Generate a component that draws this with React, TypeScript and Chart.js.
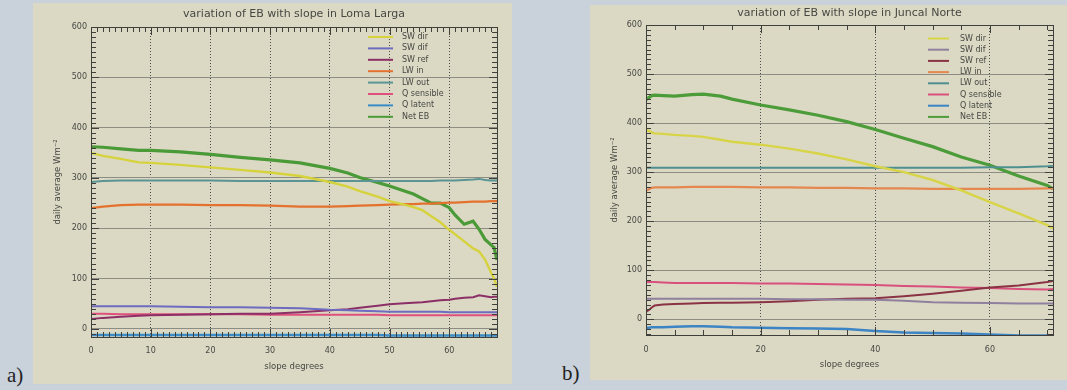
import React, { useEffect, useRef } from "react";
import { Chart, registerables } from "chart.js";

Chart.register(...registerables);

// ---------- text ----------
const seriesNames = ["SW dir", "SW dif", "SW ref", "LW in", "LW out", "Q sensible", "Q latent", "Net EB"];
const titleA = "variation of EB with slope in Loma Larga";
const titleB = "variation of EB with slope in Juncal Norte";
const xAxisTitle = "slope degrees";
const yAxisTitle = "daily average Wm\u207B\u00B2";
const panelLabelA = "a)";
const panelLabelB = "b)";

// ---------- panel a : Loma Larga ----------
const slopeA = [0, 2, 5, 8, 10, 15, 20, 25, 30, 35, 40, 43, 45, 48, 50, 52.5, 54, 55.5, 57, 58.5, 60, 61, 62.5, 64, 65, 66, 67, 67.5, 68];
const swDirA = [350, 344, 338, 331, 330, 326, 321, 316, 311, 304, 292, 283, 274, 263, 254, 247, 242, 236, 224, 212, 197, 188, 174, 160, 154, 138, 112, 100, 84];
const swDifA = [45, 45, 45, 45, 45, 44, 43, 43, 42, 41, 38, 37, 36, 35, 34, 34, 34, 34, 34, 34, 33, 33, 33, 33, 33, 33, 33, 33, 33];
const swRefA = [20, 22, 24, 26, 27, 28, 29, 30, 30, 33, 37, 39, 42, 46, 49, 51, 52, 53, 55, 57, 58, 60, 62, 63, 67, 65, 63, 64, 64];
const lwInA = [240, 243, 246, 247, 247, 247, 246, 246, 245, 243, 243, 244, 245, 246, 247, 248, 248, 249, 249, 250, 251, 251, 252, 253, 253, 253, 254, 254, 254];
const lwOutA = [292, 294, 295, 295, 295, 295, 295, 294, 294, 294, 294, 294, 294, 294, 294, 294, 294, 294, 294, 295, 295, 295, 296, 297, 298, 296, 295, 295, 295];
const qSensA = [30, 30, 29, 29, 29, 29, 29, 29, 28, 28, 28, 28, 28, 28, 27, 27, 27, 27, 27, 27, 27, 27, 27, 27, 27, 27, 27, 27, 27];
const qLatA = [-12, -12, -12, -12, -12, -12, -12, -12, -12, -12, -12, -12, -12, -12, -13, -13, -13, -13, -13, -13, -13, -13, -13, -13, -13, -13, -13, -13, -13];
const netEbA = [362, 361, 358, 355, 355, 352, 347, 341, 336, 330, 319, 310, 301, 291, 284, 274, 268, 259, 250, 250, 241, 226, 208, 214, 198, 178, 167, 162, 137];

// ---------- panel b : Juncal Norte ----------
const slopeB = [0, 0.5, 1, 1.5, 3, 5, 8, 10, 13, 15, 20, 25, 30, 35, 40, 45, 50, 55, 60, 65, 70, 71];
const swDirB = [386, 384, 381, 379, 378, 376, 374, 372, 366, 362, 356, 348, 338, 326, 312, 300, 284, 263, 239, 216, 192, 185];
const swDifB = [42, 42, 42, 42, 42, 42, 42, 42, 42, 42, 42, 41, 41, 40, 40, 38, 35, 34, 33, 32, 32, 32];
const swRefB = [15, 19, 24, 28, 30, 31, 32, 33, 34, 34, 35, 37, 40, 42, 43, 47, 52, 58, 65, 69, 76, 78];
const lwInB = [262, 265, 268, 269, 269, 269, 270, 270, 270, 270, 269, 269, 268, 268, 267, 267, 266, 266, 266, 266, 267, 267];
const lwOutB = [309, 309, 309, 309, 309, 309, 309, 309, 309, 309, 309, 309, 309, 309, 309, 309, 309, 309, 310, 310, 312, 313];
const qSensB = [76, 76, 76, 76, 75, 74, 74, 74, 74, 74, 73, 73, 72, 71, 70, 68, 67, 65, 64, 62, 61, 62];
const qLatB = [-17, -17, -16, -16, -16, -15, -14, -14, -15, -16, -17, -18, -19, -20, -24, -27, -28, -29, -31, -33, -33, -33];
const netEbB = [448, 452, 456, 457, 456, 455, 458, 459, 455, 449, 437, 427, 416, 403, 387, 369, 352, 331, 314, 292, 273, 266];

// ---------- styles ----------
const colorsA = ["#d6d23c", "#6d6cc0", "#8c2f66", "#e4722e", "#5a9494", "#e0507c", "#3a8cc8", "#4a9a38"];
const colorsB = ["#d8d448", "#8e809e", "#8a3344", "#e48850", "#4e9090", "#d9507c", "#3c84c4", "#4c9c3a"];
const widths = [2.4, 2, 2, 2.2, 1.8, 2, 2.5, 3.2];

const FONT = "DejaVu Sans";
const TEXT = "#474743";
const FRAME = "#3f3f3b";

type PanelCfg = {
  left: number; top: number; w: number; h: number; padRight: number;
  title: string; titleTop: number; titleBottom: number;
  x: number[]; series: number[][]; colors: string[];
  xMax: number; xStep: number; xMinor: number; yMin: number;
  yAxisW: number; xAxisH: number; xTickPad: number; xTitlePad: number;
  legTop: number; legStep: number; legSample: number; legSampleLen: number; legText: number;
};

const panelA: PanelCfg = {
  left: 33, top: 3, w: 479, h: 381, padRight: 15,
  title: titleA, titleTop: 5, titleBottom: 5.8,
  x: slopeA, series: [swDirA, swDifA, swRefA, lwInA, lwOutA, qSensA, qLatA, netEbA], colors: colorsA,
  xMax: 68, xStep: 10, xMinor: 1, yMin: -16,
  yAxisW: 58, xAxisH: 47, xTickPad: 9, xTitlePad: 12,
  legTop: 10, legStep: 11.4, legSample: 129, legSampleLen: 25, legText: 95,
};

const panelB: PanelCfg = {
  left: 590, top: 5, w: 477, h: 375, padRight: 14,
  title: titleB, titleTop: 2, titleBottom: 4.8,
  x: slopeB, series: [swDirB, swDifB, swRefB, lwInB, lwOutB, qSensB, qLatB, netEbB], colors: colorsB,
  xMax: 71, xStep: 20, xMinor: 5, yMin: -32,
  yAxisW: 56, xAxisH: 45, xTickPad: 10, xTitlePad: 10,
  legTop: 13.5, legStep: 11.2, legSample: 125, legSampleLen: 21, legText: 93,
};

function Panel({ cfg }: { cfg: PanelCfg }) {
  const ref = useRef<HTMLCanvasElement>(null);
  useEffect(() => {
    const canvas = ref.current!;
    const framePlugin = {
      id: "idlFrame",
      afterDatasetsDraw(chart: any) {
        const { ctx, chartArea } = chart;
        const { left, right, top, bottom } = chartArea;
        const xs = chart.scales.x;
        const ys = chart.scales.y;
        ctx.save();
        ctx.strokeStyle = FRAME;
        ctx.lineWidth = 1;
        ctx.beginPath();
        for (let v = Math.ceil(ys.min / 10) * 10; v <= ys.max; v += 10) {
          const py = Math.round(ys.getPixelForValue(v)) + 0.5;
          const len = v % 100 === 0 ? 8 : 5;
          ctx.moveTo(left, py); ctx.lineTo(left + len, py);
          ctx.moveTo(right, py); ctx.lineTo(right - len, py);
        }
        for (let v = 0; v <= xs.max; v += cfg.xMinor) {
          const px = Math.round(xs.getPixelForValue(v)) + 0.5;
          const len = v % cfg.xStep === 0 ? 8 : 5;
          ctx.moveTo(px, bottom); ctx.lineTo(px, bottom - len);
          ctx.moveTo(px, top); ctx.lineTo(px, top + len);
        }
        ctx.stroke();
        ctx.strokeRect(Math.round(left) + 0.5, Math.round(top) + 0.5, Math.round(right - left), Math.round(bottom - top));
        // legend inside plot
        ctx.font = `8px "${FONT}"`;
        ctx.textBaseline = "middle";
        ctx.textAlign = "left";
        chart.data.datasets.forEach((ds: any, i: number) => {
          const y = top + cfg.legTop + i * cfg.legStep;
          ctx.strokeStyle = ds.borderColor;
          ctx.lineWidth = 2;
          ctx.beginPath();
          ctx.moveTo(right - cfg.legSample, y);
          ctx.lineTo(right - cfg.legSample + cfg.legSampleLen, y);
          ctx.stroke();
          ctx.fillStyle = TEXT;
          ctx.fillText(ds.label, right - cfg.legText, y);
        });
        ctx.restore();
      },
    };
    const chart = new Chart(canvas, {
      type: "line",
      data: {
        datasets: cfg.series.map((vals, i) => ({
          label: seriesNames[i],
          data: cfg.x.map((x, j) => ({ x, y: vals[j] })),
          borderColor: cfg.colors[i],
          backgroundColor: cfg.colors[i],
          borderWidth: widths[i],
          pointRadius: 0,
          tension: 0,
          fill: false,
        })),
      },
      options: {
        animation: false,
        responsive: false,
        maintainAspectRatio: false,
        layout: { padding: { left: 0, top: 0, bottom: 0, right: cfg.padRight } },
        plugins: {
          legend: { display: false },
          tooltip: { enabled: false },
          title: {
            display: true,
            text: cfg.title,
            fullSize: false,
            color: TEXT,
            font: { family: FONT, size: 11, weight: "normal" },
            padding: { top: cfg.titleTop, bottom: cfg.titleBottom },
          },
        },
        scales: {
          x: {
            type: "linear",
            min: 0,
            max: cfg.xMax,
            ticks: { stepSize: cfg.xStep, includeBounds: false, padding: cfg.xTickPad, color: TEXT, font: { family: FONT, size: 8 }, maxRotation: 0 },
            grid: { color: "#4c4c48", lineWidth: 1, drawTicks: false },
            border: { display: true, color: FRAME, dash: [1, 2] },
            title: { display: true, text: xAxisTitle, color: TEXT, font: { family: FONT, size: 8.5 }, padding: { top: 0, bottom: cfg.xTitlePad } },
            afterFit: (s: any) => { s.height = cfg.xAxisH; },
          },
          y: {
            type: "linear",
            min: cfg.yMin,
            max: 600,
            ticks: { stepSize: 100, includeBounds: false, padding: 4, color: TEXT, font: { family: FONT, size: 8 } },
            grid: { color: "#8e8d84", lineWidth: 1, drawTicks: false },
            border: { display: true, color: FRAME },
            title: { display: true, text: yAxisTitle, color: TEXT, font: { family: FONT, size: 8.5 }, padding: { top: 20, bottom: 0 } },
            afterFit: (s: any) => { s.width = cfg.yAxisW; },
          },
        },
      } as any,
      plugins: [framePlugin],
    });
    return () => chart.destroy();
  }, [cfg]);
  return (
    <div style={{ position: "absolute", left: cfg.left, top: cfg.top, width: cfg.w, height: cfg.h, background: "#dbd9c4" }}>
      <canvas ref={ref} width={cfg.w} height={cfg.h} style={{ display: "block", width: cfg.w, height: cfg.h }} />
    </div>
  );
}

export default function App() {
  return (
    <div style={{ position: "fixed", left: 0, top: 0, width: 1067, height: 390, background: "#c9d1db", overflow: "hidden" }}>
      <Panel cfg={panelA} />
      <Panel cfg={panelB} />
      <div style={{ position: "absolute", left: 7, top: 365, fontFamily: "'Liberation Serif', serif", fontSize: 21, lineHeight: "21px", color: "#222" }}>{panelLabelA}</div>
      <div style={{ position: "absolute", left: 562, top: 363, fontFamily: "'Liberation Serif', serif", fontSize: 21, lineHeight: "21px", color: "#222" }}>{panelLabelB}</div>
    </div>
  );
}
